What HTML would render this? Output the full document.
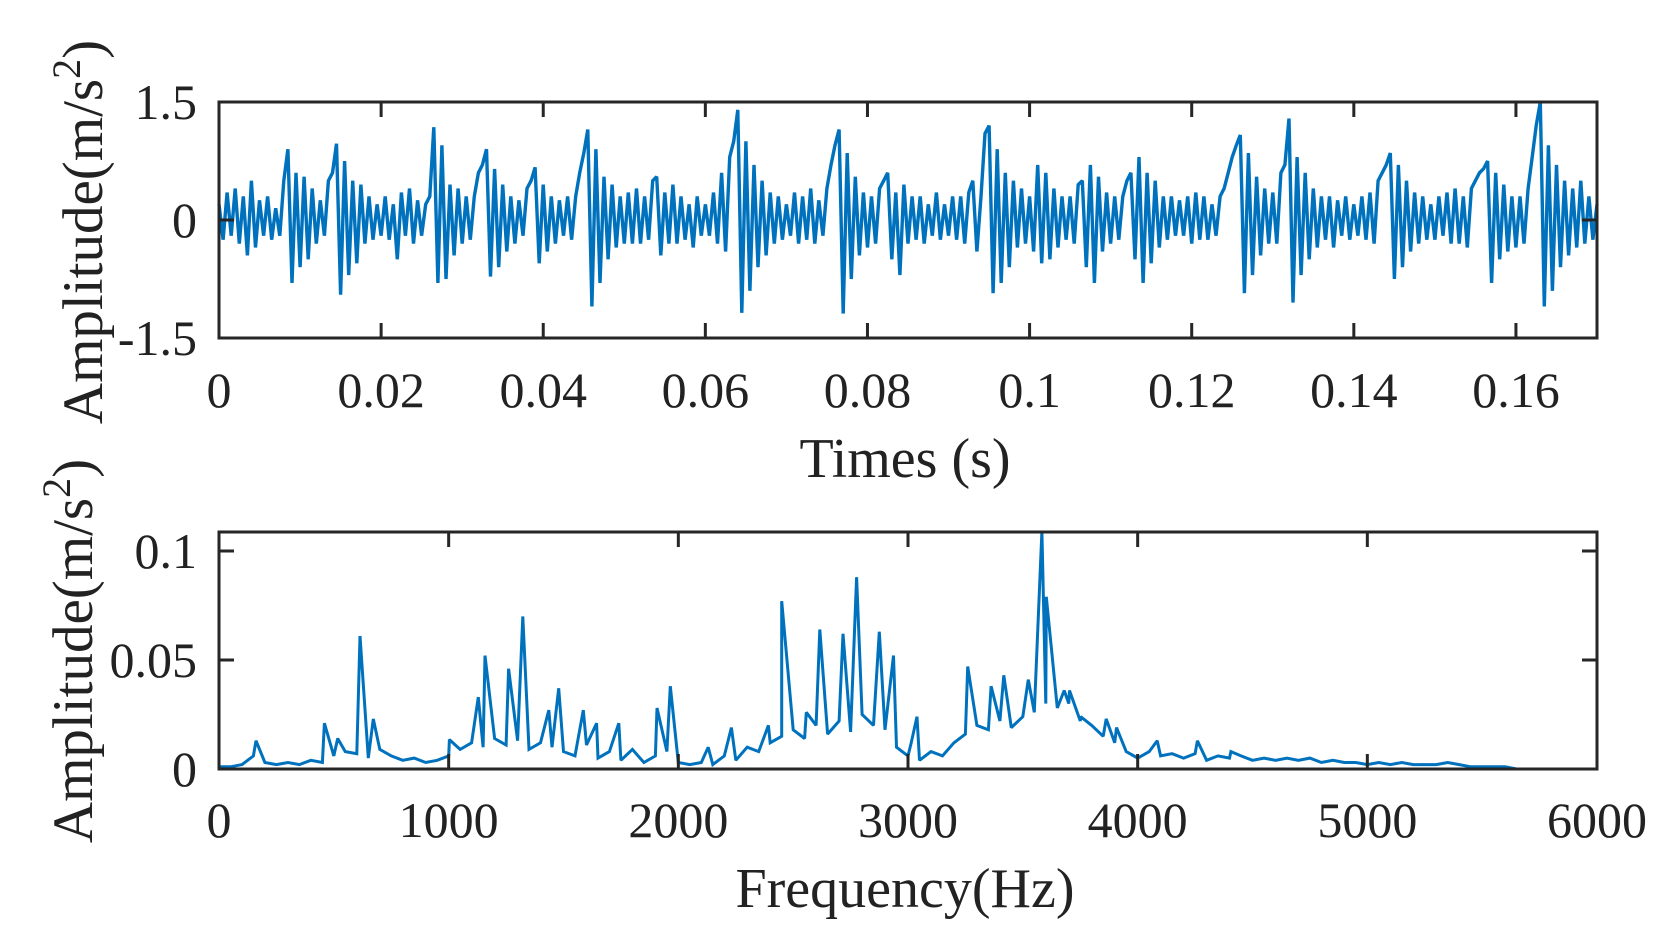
<!DOCTYPE html>
<html><head><meta charset="utf-8">
<style>
html,body{margin:0;padding:0;background:#fff;}
svg{display:block;font-family:"Liberation Serif","Times New Roman",serif;}
</style></head>
<body>
<svg id="fig" width="1673" height="950" viewBox="0 0 1673 950" xmlns="http://www.w3.org/2000/svg">
  <rect x="0" y="0" width="1673" height="950" fill="#fff"/>
  <g id="top"></g>
  <g id="bot"></g>
  <text font-size="57" fill="#222" text-anchor="middle" transform="translate(102,232) rotate(-90)">Amplitude(m/s<tspan dy="-22" font-size="40">2</tspan><tspan dy="22">)</tspan></text>
  <text font-size="56" fill="#222" text-anchor="middle" x="905" y="477">Times (s)</text>
  <text font-size="57" fill="#222" text-anchor="middle" transform="translate(92,651) rotate(-90)">Amplitude(m/s<tspan dy="-22" font-size="40">2</tspan><tspan dy="22">)</tspan></text>
  <text font-size="56" fill="#222" text-anchor="middle" x="905" y="907">Frequency(Hz)</text>
</svg>
<script>
// ---- time-domain data (sampled every 0.0005 s) ----
const timeStep = 0.0005;
const timeValues = [
0.2,-0.25,0.35,-0.2,0.4,-0.3,0.3,-0.45,0.5,-0.35,0.25,-0.2,0.3,-0.25,0.15,-0.2,0.5,0.9,-0.8,0.6,
-0.6,0.55,-0.5,0.4,-0.3,0.25,-0.2,0.5,0.6,0.97,-0.95,0.75,-0.7,0.5,-0.55,0.45,-0.3,0.3,-0.25,0.2,
-0.2,0.3,-0.25,0.2,-0.5,0.35,-0.2,0.4,-0.3,0.25,-0.2,0.2,0.3,1.18,-0.8,0.95,-0.75,0.45,-0.45,0.4,
-0.3,0.3,-0.25,0.3,0.6,0.7,0.9,-0.72,0.65,-0.6,0.45,-0.4,0.3,-0.3,0.25,-0.2,0.4,0.5,0.67,-0.55,
0.45,-0.4,0.3,-0.3,0.25,-0.2,0.3,-0.25,0.3,0.6,0.85,1.15,-1.1,0.9,-0.8,0.55,-0.5,0.45,-0.35,0.3,
-0.3,0.35,-0.3,0.4,-0.3,0.3,-0.25,0.5,0.55,-0.45,0.35,-0.3,0.45,-0.3,0.3,-0.25,0.2,-0.35,0.3,-0.2,
0.2,-0.2,0.35,-0.3,0.6,-0.4,0.8,1.0,1.4,-1.18,1.0,-0.9,0.7,-0.6,0.5,-0.45,0.35,-0.3,0.3,-0.25,
0.2,-0.2,0.35,-0.3,0.3,-0.25,0.4,-0.3,0.25,-0.2,0.4,0.7,0.95,1.15,-1.19,0.85,-0.75,0.55,-0.45,0.35,
-0.35,0.3,-0.3,0.4,0.5,0.6,-0.5,0.35,-0.7,0.45,-0.3,0.3,-0.25,0.3,-0.3,0.2,-0.2,0.35,-0.25,0.2,
-0.2,0.3,-0.25,0.3,-0.3,0.35,0.5,-0.4,0.3,1.1,1.2,-0.93,0.9,-0.8,0.6,-0.6,0.5,-0.35,0.4,-0.3,
0.3,-0.4,0.7,-0.55,0.6,-0.5,0.4,-0.35,0.3,-0.25,0.3,-0.3,0.45,0.5,-0.6,0.7,-0.8,0.55,-0.4,0.35,
-0.3,0.3,-0.25,0.3,0.5,0.6,-0.5,0.8,-0.8,0.6,-0.55,0.5,-0.35,0.3,-0.25,0.3,-0.2,0.25,-0.2,0.3,
-0.3,0.35,-0.25,0.3,-0.25,0.2,-0.2,0.3,0.4,0.6,0.8,0.95,1.08,-0.93,0.85,-0.7,0.55,-0.45,0.4,-0.3,
0.35,-0.3,0.6,0.7,1.29,-1.05,0.8,-0.7,0.6,-0.5,0.4,-0.35,0.3,-0.25,0.3,-0.35,0.25,-0.2,0.3,-0.25,
0.2,-0.2,0.3,-0.25,0.35,-0.3,0.5,0.6,0.7,0.85,-0.75,0.7,-0.6,0.5,-0.4,0.35,-0.3,0.3,-0.25,0.2,
-0.25,0.3,-0.2,0.35,-0.3,0.4,-0.3,0.3,-0.35,0.4,0.5,0.6,0.65,0.75,-0.8,0.6,-0.5,0.45,-0.4,0.3,
-0.35,0.3,-0.3,0.4,0.8,1.2,1.5,-1.1,0.95,-0.9,0.7,-0.6,0.5,-0.45,0.4,-0.35,0.5,-0.3,0.3,-0.25,0.2
];
const timeTicks = [0,0.02,0.04,0.06,0.08,0.1,0.12,0.14,0.16];
const timeTickLabels = ["0","0.02","0.04","0.06","0.08","0.1","0.12","0.14","0.16"];
const ampTicks = [-1.5,0,1.5];
const ampTickLabels = ["-1.5","0","1.5"];

// ---- spectrum data ----
const specStep = 50;
const specBaseline = [
0.001,0.001,0.002,0.006,0.003,0.002,0.003,0.002,0.004,0.003,
0.006,0.008,0.007,0.005,0.009,0.006,0.004,0.005,0.003,0.004,
0.006,0.009,0.012,0.010,0.014,0.011,0.013,0.009,0.012,0.010,
0.008,0.006,0.011,0.005,0.008,0.004,0.009,0.003,0.006,0.008,
0.003,0.002,0.003,0.002,0.006,0.004,0.010,0.008,0.012,0.015,
0.018,0.014,0.020,0.016,0.022,0.017,0.025,0.020,0.018,0.010,
0.006,0.004,0.008,0.006,0.012,0.016,0.020,0.018,0.022,0.019,
0.024,0.026,0.030,0.028,0.030,0.022,0.020,0.015,0.012,0.008,
0.005,0.008,0.006,0.007,0.005,0.007,0.004,0.006,0.005,0.006,
0.004,0.005,0.004,0.005,0.004,0.005,0.003,0.004,0.003,0.003,
0.002,0.003,0.002,0.003,0.002,0.002,0.002,0.003,0.002,0.001,
0.001,0.001,0.001,0,0,0,0,0,0,0,0
];
const peakFreqs = [161,459,517,614,672,1003,1129,1158,1261,1323,1436,1479,1586,1644,1741,1907,1965,2130,2231,2392,2450,2557,2616,2717,2776,2875,2937,3014,3039,3260,3362,3417,3524,3583,3602,3680,3703,3752,3863,3908,4085,4260,4406];
const peakAmps  = [0.013,0.021,0.014,0.061,0.023,0.0135,0.033,0.052,0.046,0.070,0.027,0.037,0.027,0.021,0.021,0.028,0.038,0.010,0.019,0.020,0.077,0.026,0.064,0.062,0.088,0.063,0.052,0.012,0.024,0.047,0.038,0.043,0.041,0.109,0.079,0.036,0.036,0.024,0.023,0.019,0.013,0.013,0.008];
const freqTicks = [0,1000,2000,3000,4000,5000,6000];
const freqTickLabels = ["0","1000","2000","3000","4000","5000","6000"];
const specTicks = [0,0.05,0.1];
const specTickLabels = ["0","0.05","0.1"];

const NS = "http://www.w3.org/2000/svg";
function mk(tag, attrs, parent){ const e=document.createElementNS(NS,tag); for(const k in attrs) e.setAttribute(k,attrs[k]); parent.appendChild(e); return e; }

// axis functions
const L=219, R=1597;
const tx = t => L + t/0.17*(R-L);
const ty = v => 220 - v/1.5*118;
const fx = f => L + f/6000*(R-L);
const fy = v => 769 - v/0.1*218;

function frame(g, top, bottom, name){
  const r = mk('rect',{x:L,y:top,width:R-L,height:bottom-top,fill:'none',stroke:'#262626','stroke-width':3},g);
  
  
}

// ---- top plot ----
const gT = document.getElementById('top');
let d='';
timeValues.forEach((v,i)=>{ d += (i?'L':'M') + tx(i*timeStep).toFixed(1)+','+ty(v).toFixed(1); });
const lineT = mk('path',{d:d,fill:'none',stroke:'#0072BD','stroke-width':3.4,'stroke-linejoin':'miter','stroke-miterlimit':2},gT);


frame(gT,102,338,'top-axes-box');
timeTicks.forEach((t,i)=>{
  const x=tx(t);
  if(i>0){
    const a=mk('path',{d:`M${x},338V323M${x},102V117`,stroke:'#262626','stroke-width':3},gT);
    
    
  }
  const lb=mk('text',{x:x,y:407,'font-size':50,fill:'#222','text-anchor':'middle'},gT);
  lb.textContent=timeTickLabels[i];
  
  
});
ampTicks.forEach((v,i)=>{
  const y=ty(v);
  if(i===1){
    const a=mk('path',{d:`M${L},${y}H${L+15}M${R},${y}H${R-15}`,stroke:'#262626','stroke-width':3},gT);
    
    
  }
  const lb=mk('text',{x:197,y:y+17,'font-size':50,fill:'#222','text-anchor':'end'},gT);
  lb.textContent=ampTickLabels[i];
  
  
});

// ---- bottom plot ----
const gB = document.getElementById('bot');
const pts = specBaseline.map((v,i)=>[i*specStep,v]);
peakFreqs.forEach((f,i)=>pts.push([f,peakAmps[i]]));
pts.sort((a,b)=>a[0]-b[0]);
let d2='';
pts.forEach((p,i)=>{ d2 += (i?'L':'M') + fx(p[0]).toFixed(1)+','+fy(p[1]).toFixed(1); });
const lineB = mk('path',{d:d2,fill:'none',stroke:'#0072BD','stroke-width':3,'stroke-miterlimit':2},gB);


frame(gB,532,769,'bottom-axes-box');
freqTicks.forEach((f,i)=>{
  const x=fx(f);
  if(i>0 && i<freqTicks.length-1){
    const a=mk('path',{d:`M${x},769V754M${x},532V547`,stroke:'#262626','stroke-width':3},gB);
    
    
  }
  const lb=mk('text',{x:x,y:837,'font-size':50,fill:'#222','text-anchor':'middle'},gB);
  lb.textContent=freqTickLabels[i];
  
  
});
specTicks.forEach((v,i)=>{
  const y=fy(v);
  if(i>0){
    const a=mk('path',{d:`M${L},${y}H${L+15}M${R},${y}H${R-15}`,stroke:'#262626','stroke-width':3},gB);
    
    
  }
  const lb=mk('text',{x:197,y:y+17,'font-size':50,fill:'#222','text-anchor':'end'},gB);
  lb.textContent=specTickLabels[i];
  
  
});
</script>
</body></html>
